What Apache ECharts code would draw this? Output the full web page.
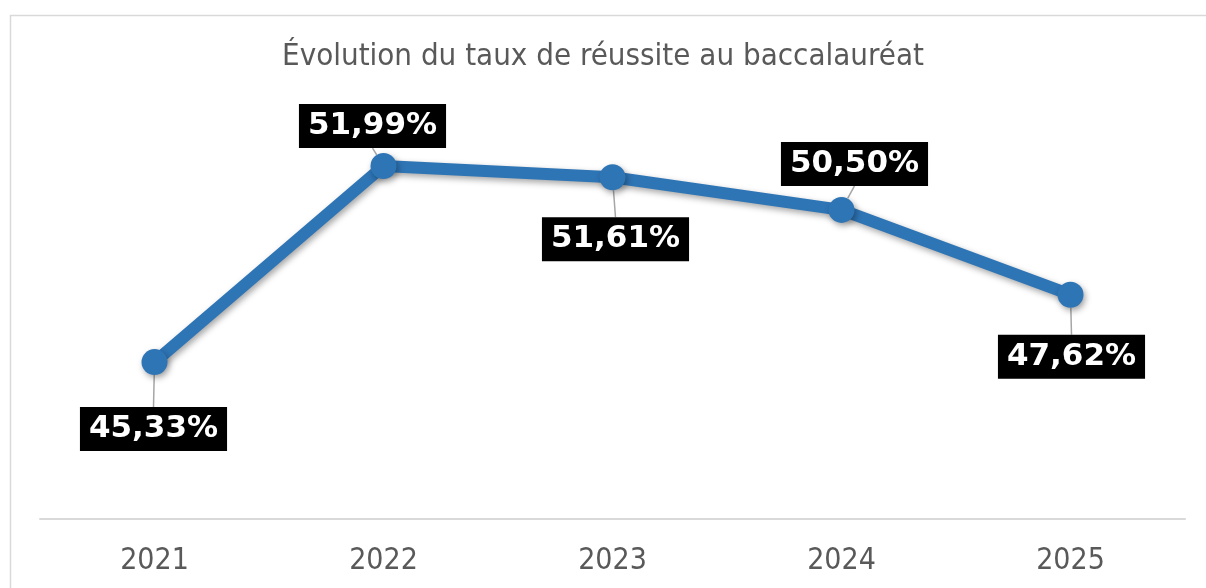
<!DOCTYPE html>
<html><head><meta charset="utf-8">
<script src="https://cdn.jsdelivr.net/npm/echarts@6/dist/echarts.min.js"></script>
<style>html,body{margin:0;padding:0;background:#fff;}#c{width:1206px;height:588px;}</style>
</head><body><div id="c"></div>
<script>
const categories = ['2021', '2022', '2023', '2024', '2025'];
const values = [45.33, 51.99, 51.61, 50.50, 47.62];
const titleText = 'Évolution du taux de réussite au baccalauréat';

// label offsets (px) from each point, for layout only
const labelOffsets = [[-1, 67], [-11, -40], [3, 62], [13, -46], [1, 62]];

const narrow = "'DejaVu Sans Condensed', 'DejaVu Sans', sans-serif";
const chart = echarts.init(document.getElementById('c'));
chart.setOption({
  backgroundColor: '#ffffff',
  animation: false,
  title: {
    text: titleText, left: 'center', top: 36,
    textStyle: { fontFamily: narrow, fontWeight: 'normal', fontSize: 31, color: '#595959' }
  },
  graphic: [{
    type: 'rect', shape: { x: 10.5, y: 15.5, width: 1400, height: 800 },
    style: { fill: 'none', stroke: '#d9d9d9', lineWidth: 1.5 }, silent: true, z: -1
  }],
  grid: { left: 40, right: 21, top: 48, bottom: 69 },
  xAxis: {
    type: 'category', data: categories, boundaryGap: true,
    axisLine: { show: true, lineStyle: { color: '#d9d9d9', width: 2 } },
    axisTick: { show: false },
    axisLabel: { fontFamily: narrow, fontSize: 30, color: '#595959', margin: 27 }
  },
  yAxis: {
    type: 'value', min: 40, max: 56, show: false, splitLine: { show: false }
  },
  series: [{
    type: 'line', data: values,
    symbol: 'circle', symbolSize: 26,
    lineStyle: { color: '#2e75b6', width: 12, shadowColor: 'rgba(0,0,0,0.35)', shadowBlur: 6, shadowOffsetX: 2, shadowOffsetY: 3, cap: 'round', join: 'round' },
    itemStyle: { color: '#2e75b6', shadowColor: 'rgba(0,0,0,0.35)', shadowBlur: 6, shadowOffsetX: 2, shadowOffsetY: 3 },
    label: {
      show: true, position: 'inside',
      formatter: p => p.value.toFixed(2).replace('.', ',') + '%',
      fontFamily: 'DejaVu Sans', fontWeight: 'bold', fontSize: 31, color: '#ffffff',
      backgroundColor: '#000000', padding: [5, 9, 4, 9], lineHeight: 35
    },
    labelLine: { show: true, lineStyle: { color: '#a6a6a6', width: 1.5 } },
    labelLayout: p => ({ dx: labelOffsets[p.dataIndex][0], dy: labelOffsets[p.dataIndex][1] })
  }]
});
</script></body></html>
